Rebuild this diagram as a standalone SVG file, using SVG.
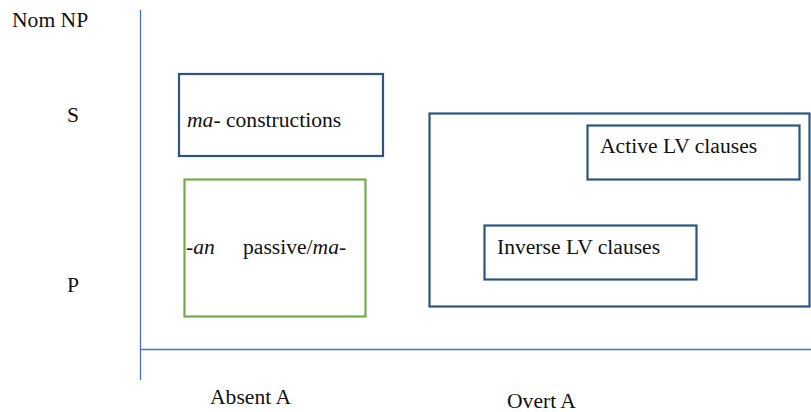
<svg xmlns="http://www.w3.org/2000/svg" width="811" height="412" viewBox="0 0 811 412">
<style>
text{font-family:"Liberation Serif","Times New Roman",serif;font-size:21.6px;fill:#111}
.i{font-style:italic}
.axis{stroke:#4472C4;stroke-width:1.3;fill:none}
.blue{fill:none;stroke:#2A5584;stroke-width:2.2}
.green{fill:none;stroke:#70AD47;stroke-width:2.2}
</style>
<rect width="811" height="412" fill="#fff"/>
<g id="axes">
<line class="axis" x1="140.5" y1="10" x2="140.5" y2="380"/>
<line class="axis" x1="140" y1="349.5" x2="811" y2="349.5"/>
</g>
<g id="labels">
<text x="12" y="27">Nom NP</text>
<text x="67" y="122">S</text>
<text x="67" y="292">P</text>
<text x="210" y="404">Absent A</text>
<text x="507" y="408">Overt A</text>
</g>
<g id="ma-constructions">
<rect class="blue" x="179" y="74" width="204" height="82"/>
<text x="187" y="127"><tspan class="i">ma-</tspan> constructions</text>
</g>
<g id="an-passive">
<rect class="green" x="184.5" y="179.5" width="181" height="137"/>
<text x="186" y="254">-<tspan class="i">an</tspan></text>
<text x="243" y="254">passive/<tspan class="i">ma-</tspan></text>
</g>
<g id="overt-a">
<rect class="blue" x="429.5" y="113.5" width="380" height="193"/>
</g>
<g id="active-lv">
<rect class="blue" x="587.5" y="125.5" width="212" height="54"/>
<text x="600" y="153">Active LV clauses</text>
</g>
<g id="inverse-lv">
<rect class="blue" x="484.5" y="225.5" width="212" height="54"/>
<text x="497" y="254">Inverse LV clauses</text>
</g>
<g id="connectors"></g>
</svg>
